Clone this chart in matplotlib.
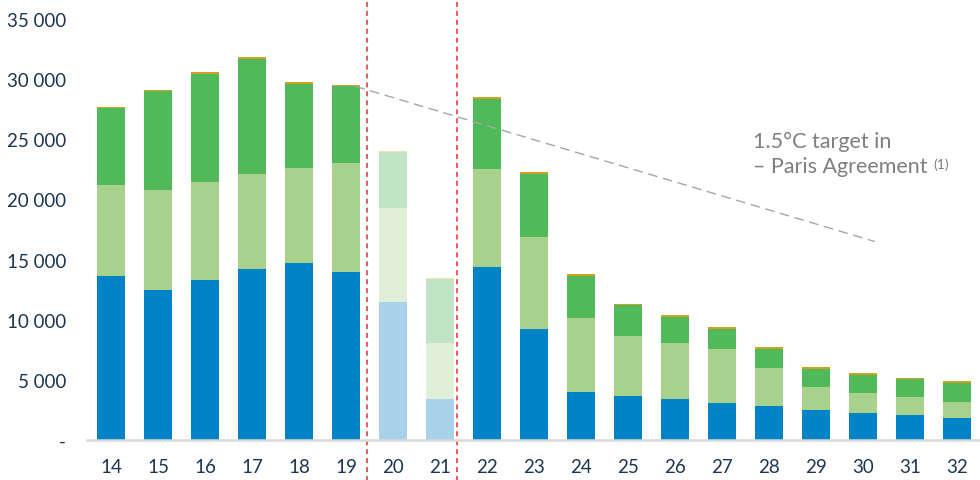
import matplotlib
matplotlib.use("Agg")
import matplotlib.pyplot as plt
import numpy as np

plt.rcParams['font.family'] = ['Lato', 'DejaVu Sans']

# Data
years = ['14', '15', '16', '17', '18', '19', '20', '21', '22', '23',
         '24', '25', '26', '27', '28', '29', '30', '31', '32']
blue = [13600, 12500, 13300, 14250, 14700, 14000, 11450, 3450, 14400, 9250,
        3950, 3650, 3400, 3100, 2800, 2500, 2250, 2050, 1850]
light_green = [7600, 8250, 8150, 7900, 7950, 9000, 7800, 4650, 8100, 7600,
               6200, 5000, 4650, 4450, 3150, 1900, 1650, 1500, 1350]
dark_green = [6400, 8300, 9000, 9500, 6950, 6400, 4700, 5250, 5850, 5250,
              3500, 2550, 2200, 1700, 1650, 1500, 1500, 1500, 1550]
other = [60, 60, 170, 170, 150, 150, 80, 130, 130, 140,
         130, 130, 130, 130, 140, 140, 130, 130, 130]
faded_years = ['20', '21']

# dividers (in year units) and 1.5°C target path
divider_years = [19.45, 21.37]
target_years = [19.2, 30.25]
target_values = [29400, 16500]

yticks = [0, 5000, 10000, 15000, 20000, 25000, 30000, 35000]
ytick_labels = ['-', '5 000', '10 000', '15 000', '20 000', '25 000', '30 000', '35 000']

# colours
c_blue, c_blue_f = '#0082C6', '#A7D2EA'
c_lg, c_lg_f = '#A9D18E', '#E0EFD8'
c_dg, c_dg_f = '#50B95A', '#C1E5C4'
c_or, c_or_f = '#D2A020', '#F6DEB2'

x = np.arange(len(years))
first = int(years[0])
faded = [y in faded_years for y in years]


def pick(normal, light):
    return [light if f else normal for f in faded]


fig = plt.figure(figsize=(9.8, 4.81), dpi=100)
ax = fig.add_axes([87 / 980, 1 - 441 / 481, 893 / 980, 421 / 481])

w = 0.59
b0 = np.zeros(len(years))
for vals, col in [(blue, pick(c_blue, c_blue_f)),
                  (light_green, pick(c_lg, c_lg_f)),
                  (dark_green, pick(c_dg, c_dg_f)),
                  (other, pick(c_or, c_or_f))]:
    ax.bar(x, vals, width=w, bottom=b0, color=col, linewidth=0, zorder=2)
    b0 = b0 + np.array(vals)

# red dashed dividers spanning the whole figure height
for d in divider_years:
    ax.axvline(d - first, ymin=-0.1, ymax=1.05, color='#F25A5A', lw=1.4,
               ls=(0, (2.6, 2.0)), clip_on=False, zorder=3)

# grey dashed 1.5°C target line
ax.plot(np.array(target_years) - first, target_values, color='#A6A6A6',
        lw=1.0, ls=(0, (7, 4)), zorder=4)

ax.text(13.66, 24330, '1.5°C target in', fontsize=15.5, color='#7F7F7F',
        ha='left', va='baseline')
t = ax.text(13.66, 22310, '– Paris Agreement', fontsize=15.5, color='#7F7F7F',
            ha='left', va='baseline')
ax.annotate('(1)', xy=(1, 1), xycoords=t, xytext=(4.5, -1),
            textcoords='offset points', fontsize=10, color='#7F7F7F',
            ha='left', va='top')

ax.set_xlim(-0.51, len(years) - 0.51)
ax.set_ylim(0, 35000)
ax.set_xticks(x)
ax.set_xticklabels(years)
ax.set_yticks(yticks)
ax.set_yticklabels(ytick_labels)
ax.tick_params(axis='both', length=0, labelsize=13.5, colors='#1D3553')
ax.tick_params(axis='x', pad=13)
ax.tick_params(axis='y', pad=15)

for s in ['top', 'right', 'left']:
    ax.spines[s].set_visible(False)
ax.spines['bottom'].set_color('#D9D9D9')
ax.spines['bottom'].set_linewidth(1.8)
ax.spines['bottom'].set_zorder(5)

fig.savefig('out.png', dpi=100)
